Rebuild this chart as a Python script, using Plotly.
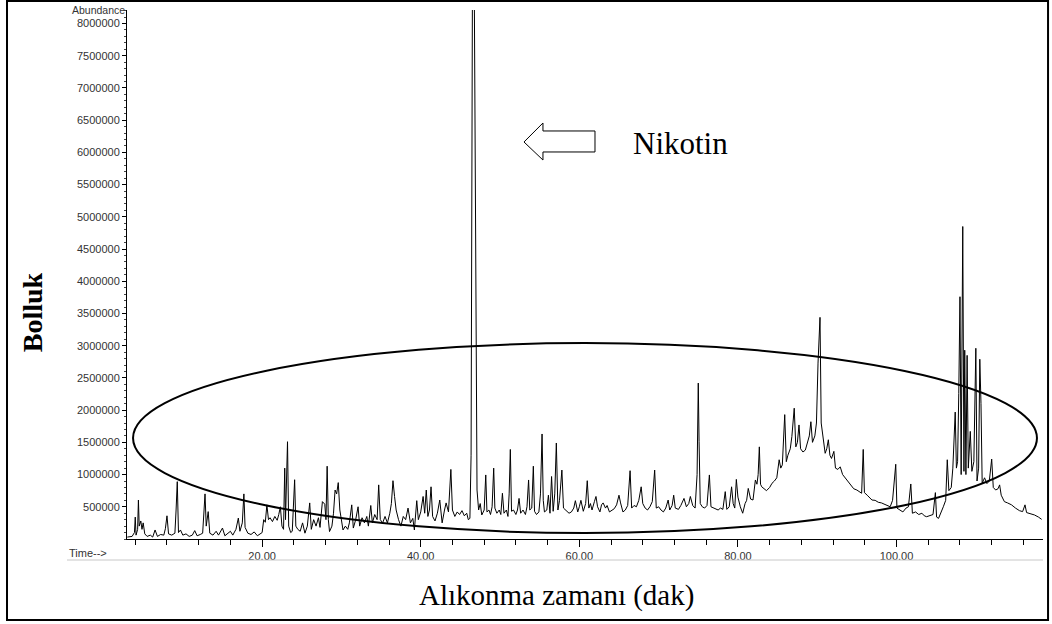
import plotly.graph_objects as go

# Retention time (min) and abundance (thousands)
time_min = [
    3.0, 3.6, 3.9, 4.0, 4.1, 4.3, 4.4, 4.5, 4.7, 4.85, 5.0, 5.2, 5.5, 5.9, 6.2, 6.5, 6.8, 7.2, 7.6, 7.8,
    8.0, 8.2, 8.6, 9.0, 9.15, 9.3, 9.45, 9.7, 10.0, 10.4, 10.8, 11.2, 11.5, 11.8, 12.2, 12.5, 12.8, 12.95, 13.2, 13.4,
    13.8, 14.2, 14.5, 14.8, 15.0, 15.3, 15.6, 16.0, 16.3, 16.7, 17.0, 17.2, 17.5, 17.7, 17.85, 18.2, 18.6, 19.0, 19.4, 19.8,
    20.0, 20.2, 20.4, 20.6, 20.8, 21.0, 21.3, 21.6, 21.9, 22.1, 22.3, 22.5, 22.7, 22.85, 22.95, 23.2, 23.35, 23.6, 23.8, 24.1,
    24.25, 24.5, 24.8, 25.1, 25.4, 25.7, 26.0, 26.2, 26.5, 26.8, 27.1, 27.3, 27.6, 27.9, 28.05, 28.2, 28.35, 28.5, 28.8, 29.0,
    29.2, 29.4, 29.6, 29.8, 30.0, 30.2, 30.5, 30.8, 31.0, 31.3, 31.5, 31.8, 32.1, 32.3, 32.6, 32.9, 33.2, 33.4, 33.7, 33.9,
    34.2, 34.5, 34.7, 34.9, 35.2, 35.5, 35.8, 36.1, 36.3, 36.5, 36.7, 36.9, 37.2, 37.5, 37.8, 38.1, 38.4, 38.7, 39.0, 39.2,
    39.5, 39.7, 40.0, 40.3, 40.5, 40.7, 40.9, 41.1, 41.3, 41.5, 41.8, 42.1, 42.4, 42.7, 43.0, 43.2, 43.5, 43.8, 44.0, 44.3,
    44.6, 44.9, 45.2, 45.5, 45.8, 46.0, 46.2, 46.35, 46.6, 47.0, 47.1, 47.3, 47.5, 47.7, 48.0, 48.2, 48.35, 48.6, 48.8, 49.0,
    49.2, 49.35, 49.6, 49.9, 50.1, 50.3, 50.5, 50.8, 51.0, 51.15, 51.3, 51.45, 51.7, 52.0, 52.2, 52.4, 52.6, 52.9, 53.2, 53.4,
    53.6, 53.75, 54.0, 54.2, 54.35, 54.6, 54.9, 55.1, 55.3, 55.45, 55.6, 55.9, 56.1, 56.3, 56.5, 56.7, 56.9, 57.1, 57.3, 57.5,
    57.8, 58.0, 58.3, 58.7, 59.0, 59.3, 59.5, 59.8, 60.0, 60.2, 60.5, 60.8, 61.0, 61.2, 61.4, 61.6, 61.9, 62.1, 62.3, 62.6,
    62.8, 63.0, 63.3, 63.5, 63.8, 64.1, 64.4, 64.7, 65.0, 65.2, 65.5, 65.8, 66.1, 66.4, 66.6, 66.9, 67.2, 67.5, 67.8, 68.0,
    68.3, 68.6, 68.9, 69.2, 69.5, 69.7, 70.0, 70.3, 70.6, 70.9, 71.2, 71.4, 71.7, 71.9, 72.1, 72.5, 72.8, 73.2, 73.5, 73.8,
    74.0, 74.3, 74.6, 74.85, 75.0, 75.1, 75.25, 75.5, 75.8, 76.1, 76.4, 76.6, 76.9, 77.2, 77.5, 77.8, 78.1, 78.4, 78.6, 78.9,
    79.2, 79.4, 79.6, 79.8, 80.0, 80.3, 80.6, 80.9, 81.1, 81.3, 81.6, 81.9, 82.2, 82.4, 82.55, 82.7, 82.85, 83.0, 83.3, 83.6,
    84.0, 84.3, 84.6, 84.9, 85.2, 85.4, 85.6, 85.9, 86.1, 86.3, 86.6, 86.8, 87.1, 87.3, 87.5, 87.7, 87.9, 88.2, 88.5, 88.8,
    89.0, 89.2, 89.4, 89.7, 89.9, 90.1, 90.35, 90.5, 90.7, 91.0, 91.2, 91.4, 91.6, 91.8, 92.1, 92.3, 92.6, 92.9, 93.2, 93.5,
    93.7, 94.0, 94.3, 94.6, 95.0, 95.4, 95.6, 95.8, 95.95, 96.3, 96.6, 96.9, 97.3, 97.7, 98.1, 98.5, 98.9, 99.2, 99.5, 99.7,
    99.9, 100.05, 100.4, 100.8, 101.2, 101.5, 101.8, 102.0, 102.4, 102.8, 103.2, 103.5, 103.8, 104.2, 104.6, 104.9, 105.05, 105.3, 105.6, 105.9,
    106.2, 106.4, 106.6, 106.9, 107.1, 107.4, 107.55, 107.7, 107.85, 108.0, 108.15, 108.35, 108.5, 108.6, 108.75, 108.9, 109.05, 109.3, 109.5, 109.75,
    110.0, 110.15, 110.35, 110.5, 110.65, 110.8, 111.1, 111.4, 111.7, 112.0, 112.2, 112.5, 112.8, 113.0, 113.2, 113.6, 114.0, 114.5, 115.0, 115.5,
    115.9, 116.2, 116.4, 116.9, 117.4, 117.9, 118.3,
]
abundance_k = [
    30, 40, 100, 340, 60, 150, 605, 200, 280, 150, 250, 80, 40, 60, 30, 140, 40, 70, 60, 160,
    360, 80, 60, 90, 450, 890, 100, 140, 60, 80, 40, 60, 130, 50, 70, 90, 700, 200, 425, 90,
    60, 120, 60, 130, 170, 50, 80, 120, 60, 150, 325, 120, 250, 700, 180, 90, 70, 110, 50, 80,
    100, 300, 260, 530, 300, 330, 270, 350, 290, 380, 500, 200, 150, 1100, 300, 1510, 200, 100, 120, 920,
    200, 150, 120, 250, 90, 200, 560, 150, 300, 200, 330, 180, 580, 540, 300, 1130, 300, 115, 200, 400,
    760, 700, 875, 450, 300, 140, 200, 150, 250, 530, 170, 300, 500, 200, 330, 250, 350, 200, 520, 250,
    380, 300, 840, 300, 250, 350, 250, 400, 550, 905, 660, 450, 300, 200, 350, 300, 480, 250, 320, 140,
    595, 300, 420, 660, 400, 760, 350, 450, 810, 350, 280, 400, 605, 250, 450, 560, 420, 1080, 450, 350,
    420, 380, 440, 360, 400, 300, 320, 1300, 12000, 3000, 760, 450, 550, 373, 450, 994, 420, 450, 380, 500,
    1100, 480, 400, 450, 380, 710, 400, 450, 350, 700, 1390, 430, 450, 380, 450, 630, 400, 450, 380, 500,
    916, 450, 480, 1130, 430, 380, 420, 700, 1630, 600, 420, 450, 680, 400, 970, 430, 700, 1490, 450, 600,
    1070, 480, 450, 400, 420, 480, 595, 420, 500, 600, 430, 550, 905, 480, 550, 450, 580, 660, 500, 420,
    530, 560, 480, 520, 420, 450, 470, 530, 680, 560, 420, 450, 520, 1060, 480, 520, 500, 600, 810, 550,
    480, 450, 500, 580, 1070, 480, 500, 450, 420, 480, 605, 450, 520, 680, 480, 460, 520, 630, 500, 550,
    660, 520, 480, 1000, 2420, 1510, 550, 500, 480, 520, 994, 500, 480, 470, 450, 480, 460, 735, 460, 500,
    810, 550, 480, 925, 650, 500, 400, 550, 600, 785, 620, 605, 916, 850, 1000, 1430, 850, 810, 780, 750,
    800, 865, 900, 950, 1230, 1100, 1150, 1930, 1200, 1300, 1400, 1590, 2030, 1430, 1500, 1770, 1400, 1350, 1380, 1500,
    1600, 1820, 1500, 1600, 1800, 2730, 3440, 1800, 1640, 1330, 1400, 1540, 1300, 1250, 1360, 1100, 1080, 1120, 1000, 950,
    916, 870, 830, 780, 760, 720, 710, 1390, 720, 680, 640, 605, 600, 570, 560, 540, 520, 500, 600, 870,
    1160, 480, 450, 420, 480, 500, 854, 400, 420, 380, 400, 360, 346, 360, 380, 720, 340, 320, 400, 500,
    600, 1230, 750, 800, 1100, 1970, 1100, 1200, 2260, 3760, 1000, 4850, 1050, 2930, 1000, 2850, 1100, 1670, 1050, 1200,
    2960, 900, 1100, 2790, 2100, 865, 950, 860, 900, 1240, 800, 760, 780, 840, 680, 580, 560, 530, 480, 440,
    425, 530, 410, 390, 373, 340, 305,
]

y_tick_values = [500000 * i for i in range(1, 17)]
y_tick_labels = [str(v) for v in y_tick_values]

fig = go.Figure()
fig.add_trace(go.Scatter(
    x=time_min,
    y=[v * 1000 for v in abundance_k],
    mode="lines",
    line=dict(color="black", width=1),
    showlegend=False,
    hoverinfo="skip",
))

tick_font = dict(family="Liberation Sans, Arial, sans-serif", size=11, color="#333333")
serif = "Liberation Serif, Times New Roman, serif"

fig.update_layout(
    template="none",
    width=1052, height=624,
    margin=dict(l=127, r=9, t=10, b=85),
    paper_bgcolor="white", plot_bgcolor="white",
    xaxis=dict(
        range=[2.96, 118.47], showgrid=False, zeroline=False,
        showline=True, linecolor="black", linewidth=1,
        tick0=0, dtick=20, tickformat=".2f", ticks="outside", ticklen=7,
        tickcolor="black", tickfont=tick_font,
        minor=dict(tick0=0, dtick=4, ticks="outside", ticklen=5, tickcolor="black", showgrid=False),
    ),
    yaxis=dict(
        range=[0, 8210000], showgrid=False, zeroline=False,
        showline=True, linecolor="black", linewidth=1,
        tickvals=y_tick_values, ticktext=y_tick_labels,
        ticks="outside", ticklen=4, tickcolor="black", tickfont=tick_font,
        minor=dict(tick0=0, dtick=100000, ticks="outside", ticklen=2, tickcolor="#444444", showgrid=False),
    ),
    shapes=[
        # outer frame
        dict(type="rect", xref="paper", yref="paper", x0=-0.131, x1=1.0055, y0=-0.1531, y1=1.017,
             line=dict(color="black", width=2)),
        # gray frame line of the chromatogram image
        dict(type="line", xref="paper", yref="paper", x0=-0.0655, x1=1.0, y0=-0.0397, y1=-0.0397,
             line=dict(color="#c8c8c8", width=1)),
        # ellipse highlighting the region
        dict(type="circle", xref="x", yref="y", x0=3.72, x1=117.71, y0=93000, y1=3040000,
             line=dict(color="black", width=2)),
        # hollow arrow pointing to nicotine peak
        dict(type="path", xref="paper", yref="paper",
             path="M 0.4334,0.7505 L 0.4541,0.7864 L 0.4541,0.7713 L 0.5109,0.7713 "
                  "L 0.5109,0.7316 L 0.4541,0.7316 L 0.4541,0.7164 Z",
             line=dict(color="black", width=1), fillcolor="white"),
    ],
    annotations=[
        dict(text="Abundance", xref="paper", yref="paper", x=0.0, y=1.0,
             xanchor="right", yanchor="middle", showarrow=False,
             font=dict(family="Liberation Sans, Arial, sans-serif", size=10.5, color="#333333")),
        dict(text="Time-->", xref="paper", yref="paper", x=-0.0655, y=-0.0265,
             xanchor="left", yanchor="middle", showarrow=False, font=tick_font),
        dict(text="Nikotin", xref="paper", yref="paper", x=0.6048, y=0.7467,
             xanchor="center", yanchor="middle", showarrow=False,
             font=dict(family=serif, size=31, color="black")),
        dict(text="Alıkonma zamanı (dak)", xref="paper", yref="paper", x=0.4689, y=-0.1059,
             xanchor="center", yanchor="middle", showarrow=False,
             font=dict(family=serif, size=29, color="black")),
        dict(text="<b>Bolluk</b>", xref="paper", yref="paper", x=-0.1035, y=0.4291,
             xanchor="center", yanchor="middle", showarrow=False, textangle=-90,
             font=dict(family=serif, size=28, color="black")),
    ],
)

fig.write_html("out.html")
